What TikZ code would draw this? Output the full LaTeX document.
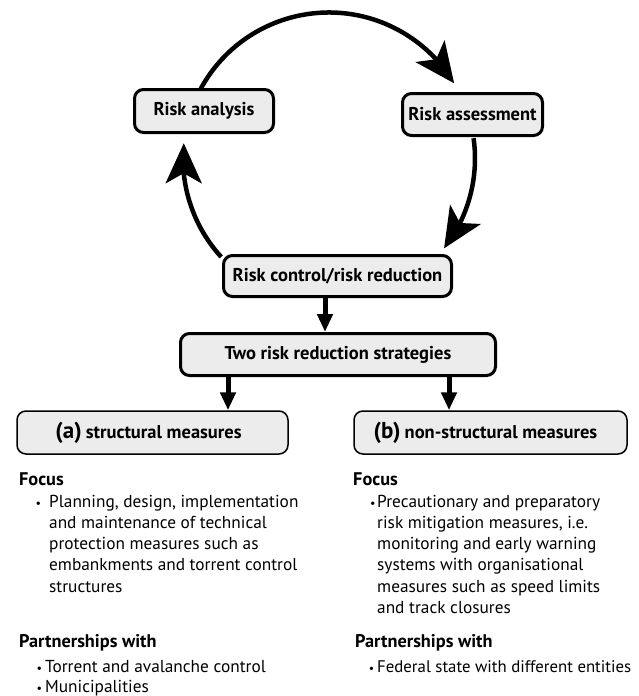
\documentclass[tikz,border=0pt]{standalone}
\usepackage{fontspec}
\setmainfont{PT Sans}
\usetikzlibrary{arrows.meta,bending}
\definecolor{boxfill}{RGB}{236,236,236}
\newcommand{\blines}[2]{\vtop{\baselineskip=#1\lineskiplimit=-20pt\lineskip=0pt #2}}
\newcommand{\bul}[1]{\llap{\scalebox{0.7}{\textbullet}\hspace{#1}}}
\begin{document}
\begin{tikzpicture}[x=1pt,y=1pt,
  cyc/.style={draw, line width=3pt, rounded corners=9pt, fill=boxfill, font=\fontsize{18.5}{22}\selectfont\bfseries, inner sep=0pt},
  sbox/.style={draw, line width=1.5pt, rounded corners=9pt, fill=boxfill, inner sep=0pt},
  cycarrow/.style={line width=4.5pt, -{Stealth[length=40pt,width=36pt,inset=10pt]}},
  downarrow/.style={line width=5pt, -{Triangle[length=18pt,width=15pt]}},
  head/.style={anchor=base west, inner sep=0pt, font=\fontsize{18.3}{22}\selectfont\bfseries},
  body/.style={anchor=base west, inner sep=0pt, font=\fontsize{17.3}{21.25}\selectfont}]
\useasboundingbox (0,0) rectangle (638,-696);
% cycle arcs
\coordinate (c) at (329,-158.5);
\draw[cycarrow] ([shift={(151.5:146pt)}]c) arc[start angle=151.5, end angle=31, radius=146pt];
\draw[cycarrow] ([shift={(8:146pt)}]c) arc[start angle=8, end angle=-38, radius=146pt];
\draw[cycarrow] ([shift={(222.4:146pt)}]c) arc[start angle=222.4, end angle=174, radius=146pt];
% boxes
\node[cyc, minimum width=139pt, minimum height=43pt] (ra) at (204,-111) {Risk analysis};
\node[cyc, minimum width=140pt, minimum height=42pt] (rs) at (472.5,-114.5) {Risk assessment};
\node[cyc, minimum width=228pt, minimum height=41pt] (rc) at (337.5,-276) {Risk control/risk reduction};
\node[cyc, minimum width=315pt, minimum height=42pt] (two) at (338,-354.5) {Two risk reduction strategies};
\node[sbox, minimum width=271pt, minimum height=43pt] (a) at (152.5,-432.5)
  {\hspace{-8pt}{\fontsize{23}{26}\selectfont\bfseries (a)}\hspace{4pt}{\fontsize{18.5}{22}\selectfont\bfseries structural measures}};
\node[sbox, minimum width=273pt, minimum height=43pt] (b) at (490.5,-432.5)
  {\hspace{-10pt}{\fontsize{23}{26}\selectfont\bfseries (b)}\hspace{4pt}{\fontsize{18.5}{22}\selectfont\bfseries non-structural measures}};
% straight arrows
\coordinate (x1) at (325,0);
\coordinate (x2) at (228,0);
\coordinate (x3) at (449,0);
\draw[downarrow] (rc.south -| x1) -- (two.north -| x1);
\draw[downarrow] (two.south -| x2) -- (a.north -| x2);
\draw[downarrow] (two.south -| x3) -- (b.north -| x3);
% left column
\node[head] (fa) at (19,-485) {Focus};
\node[body] (fal) at (49,-507) {\blines{21.25pt}{%
  \hbox{\bul{8pt}Planning, design, implementation}%
  \hbox{and maintenance of technical}%
  \hbox{protection measures such as}%
  \hbox{embankments and torrent control}%
  \hbox{structures}}};
\node[head] (pa) at (19,-647) {Partnerships with};
\node[body] (pal) at (45,-672) {\blines{20pt}{%
  \hbox{\bul{3pt}Torrent and avalanche control}%
  \hbox{\bul{3pt}Municipalities}}};
% right column
\node[head] (fb) at (353,-485) {Focus};
\node[body] (fbl) at (377,-507) {\blines{21.25pt}{%
  \hbox{\bul{1.5pt}Precautionary and preparatory}%
  \hbox{risk mitigation measures, i.e.}%
  \hbox{monitoring and early warning}%
  \hbox{systems with organisational}%
  \hbox{measures such as speed limits}%
  \hbox{and track closures}}};
\node[head] (pb) at (355,-647) {Partnerships with};
\node[body, font=\fontsize{16.8}{20}\selectfont] (pbl) at (377,-672) {\blines{20pt}{%
  \hbox{\bul{3pt}Federal state with different entities}}};
\end{tikzpicture}
\end{document}
